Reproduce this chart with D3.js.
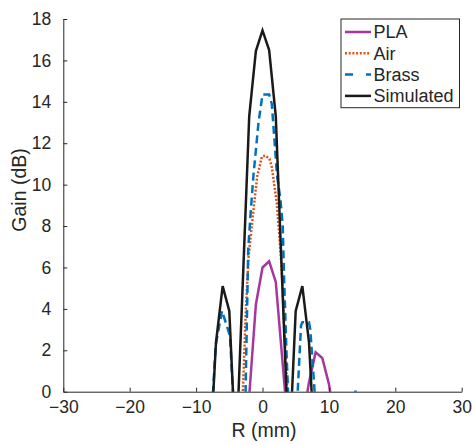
<!DOCTYPE html>
<html><head><meta charset="utf-8">
<script src="https://cdn.jsdelivr.net/npm/d3@7/dist/d3.min.js"></script>
<style>
html,body{margin:0;padding:0;background:#fff;}
svg{display:block;}
text{font-family:"Liberation Sans",Arial,Helvetica,sans-serif;fill:#262626;}
</style></head>
<body>
<svg id="chart" width="473" height="445"></svg>
<script>
// ---- data ----
const xTicks = [-30, -20, -10, 0, 10, 20, 30];
const yTicks = [0, 2, 4, 6, 8, 10, 12, 14, 16, 18];

const plaR    = [-3, -2, -1, 0, 1, 2, 3, 4, 5, 6, 7, 8, 9, 10, 11];
const plaGain = [-4, -0.2, 4.2, 6.0, 6.3, 5.3, 1.5, -2.3, -3, -1.5, 0.45, 1.9, 1.63, 0.38, -1.5];

const airR    = [-3.4, -2.95, -2.5, -2.1, -1.75, -1.25, -0.8, -0.45, -0.1, 0.4, 1.05, 1.4, 1.6, 2.15, 2.55, 2.9, 3.3, 3.75, 4.2];
const airGain = [-3, 0, 4.0, 6.5, 7.6, 9.1, 10.4, 10.85, 11.35, 11.4, 11.25, 10.85, 10.4, 9.1, 7.5, 5.9, 3.0, 0, -3];

const brassR    = [-7.9, -7.45, -7.05, -6.1, -4.9, -4.45, -4.0, -2.9, -2.55, -2.15, -1.75, -1.35, -0.6, 0, 1.0, 1.4, 2.2, 2.7, 3.05, 3.25, 3.6, 3.85, 4.3, 4.9, 5.3, 5.8, 6.0, 7.0, 7.2, 7.85, 8.3, 13.7, 14.0, 14.3];
const brassGain = [-2.5, 0, 2.25, 3.9, 2.7, 0, -2.5, -2.5, 0, 6.9, 8.8, 10.5, 13.0, 14.35, 14.35, 13.9, 10.4, 9.3, 8.0, 5.5, 2.0, 0, -2.5, -2.5, 0, 3.2, 3.35, 3.35, 3.0, 0, -2.5, -1, 0.05, -1];

const simR    = [-8, -7, -6, -5, -4, -3, -2, -1, 0, 1, 2, 3, 4, 5, 6, 7, 8];
const simGain = [-3.6, 2.4, 5.1, 3.9, -3.2, 5.0, 13.3, 16.45, 17.45, 16.5, 13.3, 5.0, -3.2, 3.9, 5.1, 2.4, -3.6];

const seriesNames = ["PLA", "Air", "Brass", "Simulated"];
const seriesColors = ["#A5379F", "#D95319", "#0072BD", "#1a1a1a"];
const seriesDash = [null, "2,1.7", "8,4.5", null];

// ---- layout ----
const svg = d3.select("#chart");
const x = d3.scaleLinear().domain([-30, 30]).range([63.3, 461.7]);
const y = d3.scaleLinear().domain([0, 18]).range([391.7, 19]);
const axisColor = "#262626";

svg.append("defs").append("clipPath").attr("id", "clip")
  .append("rect").attr("x", x(-30)).attr("y", y(18) - 2)
  .attr("width", x(30) - x(-30)).attr("height", y(0) - y(18) + 2);

// series
const series = [
  {r: plaR, g: plaGain}, {r: airR, g: airGain},
  {r: brassR, g: brassGain}, {r: simR, g: simGain}
];
const line = d3.line().x(d => x(d[0])).y(d => y(d[1]));
const plot = svg.append("g").attr("clip-path", "url(#clip)");
series.forEach((s, i) => {
  const pts = s.r.map((v, k) => [v, s.g[k]]);
  plot.append("path").datum(pts)
    .attr("d", line)
    .attr("fill", "none")
    .attr("stroke", seriesColors[i])
    .attr("stroke-width", 2.5)
    .attr("stroke-linejoin", "miter")
    .attr("stroke-dasharray", seriesDash[i]);
});

// axes
const fmt = d => (d < 0 ? "\u2212" + Math.abs(d) : String(d));
const xAxis = d3.axisBottom(x).tickValues(xTicks).tickSizeInner(-4).tickSizeOuter(0).tickPadding(9).tickFormat(fmt);
const yAxis = d3.axisLeft(y).tickValues(yTicks).tickSizeInner(-4).tickSizeOuter(0).tickPadding(12).tickFormat(fmt);

const gx = svg.append("g").attr("transform", `translate(0,${y(0)})`).call(xAxis);
const gy = svg.append("g").attr("transform", `translate(${x(-30)},0)`).call(yAxis);
[gx, gy].forEach(g => {
  g.select(".domain").attr("stroke", axisColor).attr("stroke-width", 1);
  g.selectAll(".tick line").attr("stroke", axisColor).attr("stroke-width", 1);
  g.selectAll(".tick text").attr("fill", axisColor)
    .style("font-family", '"Liberation Sans",Arial,sans-serif').style("font-size", "17.5px");
});
gx.selectAll(".tick text").attr("dy", "0.71em");

// axis labels
svg.append("text").attr("x", 264).attr("y", 437)
  .attr("text-anchor", "middle").style("font-size", "19.5px").text("R (mm)");
svg.append("text").attr("transform", "translate(26,190) rotate(-90)")
  .attr("text-anchor", "middle").style("font-size", "19.5px").text("Gain (dB)");

// legend
const lg = svg.append("g");
lg.append("rect").attr("x", 341).attr("y", 19).attr("width", 118.5).attr("height", 88.7)
  .attr("fill", "#fff").attr("stroke", axisColor).attr("stroke-width", 1);
const legendDash = [null, "2,1.7", "8,13,5", null];
seriesNames.forEach((name, i) => {
  const ly = 32 + i * 21.3;
  lg.append("line").attr("x1", 345).attr("x2", 371).attr("y1", ly).attr("y2", ly)
    .attr("stroke", seriesColors[i]).attr("stroke-width", 2.5)
    .attr("stroke-dasharray", legendDash[i]);
  lg.append("text").attr("x", 373.5).attr("y", ly).attr("dy", "0.35em")
    .style("font-size", "18px").text(name);
});
</script>
</body></html>
